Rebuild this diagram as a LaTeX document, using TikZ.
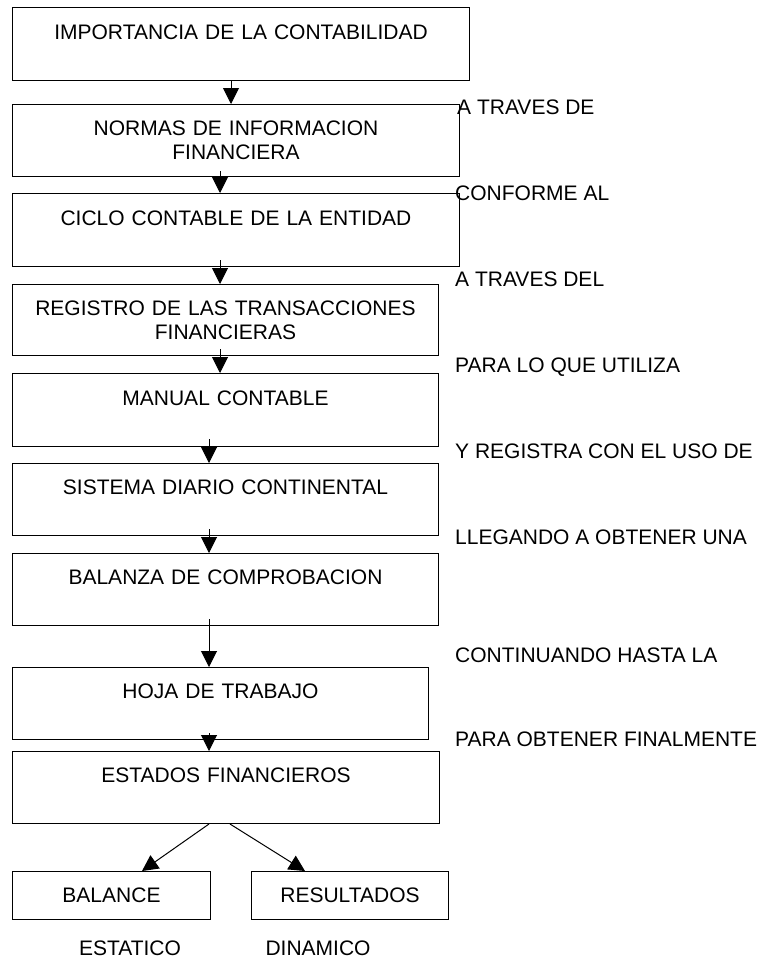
\documentclass[tikz,border=0pt]{standalone}
\usepackage{fontspec}
\setmainfont{Liberation Sans}
\usetikzlibrary{arrows.meta}

\tikzset{
	caja/.style={draw, line width=1pt, anchor=north west, inner sep=0pt, align=center, font=\fontsize{21}{24}\selectfont},
	nota/.style={anchor=base west, inner sep=0pt, font=\fontsize{21}{24}\selectfont},
	flecha/.style={-{Triangle[width=16pt,length=16pt]}, line width=1pt}
}

\begin{document}
\begin{tikzpicture}[x=1pt,y=-1pt]
	\useasboundingbox (0,0) rectangle (761,958);
	\node[caja, text width=457pt, minimum height=73pt] (imp) at (12,7) {IMPORTANCIA DE LA CONTABILIDAD\\~};
	\node[caja, text width=447pt, minimum height=72pt] (nor) at (12,104) {NORMAS DE INFORMACION\\FINANCIERA};
	\node[caja, text width=447pt, minimum height=73pt] (cic) at (12,193) {CICLO CONTABLE DE LA ENTIDAD\\~};
	\node[caja, text width=426pt, minimum height=71pt] (reg) at (12,284) {REGISTRO DE LAS TRANSACCIONES\\FINANCIERAS};
	\node[caja, text width=426pt, minimum height=73pt] (man) at (12,373) {MANUAL CONTABLE\\~};
	\node[caja, text width=426pt, minimum height=72pt] (sis) at (12,463) {SISTEMA DIARIO CONTINENTAL\\~};
	\node[caja, text width=426pt, minimum height=72pt] (bza) at (12,553) {BALANZA DE COMPROBACION\\~};
	\node[caja, text width=416pt, minimum height=72pt] (hoj) at (12,667) {HOJA DE TRABAJO\\~};
	\node[caja, text width=427pt, minimum height=72pt] (est) at (12,751) {ESTADOS FINANCIEROS\\~};
	\node[caja, text width=198pt, minimum height=48pt] (bal) at (12,871) {BALANCE};
	\node[caja, text width=197pt, minimum height=48pt] (res) at (251,871) {RESULTADOS};

	\draw[flecha] ([xshift=219pt,yshift=1pt]imp.south west) -- ([xshift=219pt]nor.north west);
	\draw[flecha] ([xshift=208pt,yshift=6pt]nor.south west) -- ([xshift=208pt]cic.north west);
	\draw[flecha] ([xshift=208pt,yshift=7pt]cic.south west) -- ([xshift=208pt]reg.north west);
	\draw[flecha] ([xshift=208pt,yshift=7pt]reg.south west) -- ([xshift=208pt]man.north west);
	\draw[flecha] ([xshift=197pt,yshift=8pt]man.south west) -- ([xshift=197pt]sis.north west);
	\draw[flecha] ([xshift=197pt,yshift=7pt]sis.south west) -- ([xshift=197pt]bza.north west);
	\draw[flecha] ([xshift=197pt,yshift=7pt]bza.south west) -- ([xshift=197pt]hoj.north west);
	\draw[flecha] ([xshift=197pt,yshift=7pt]hoj.south west) -- ([xshift=197pt]est.north west);
	\draw[flecha] ([xshift=197pt]est.south west) -- ([xshift=130pt]bal.north west);
	\draw[flecha] ([xshift=218pt]est.south west) -- ([xshift=54pt]res.north west);

	\node[nota] (n1) at (457,114) {A TRAVES DE};
	\node[nota] (n2) at (455,200) {CONFORME AL};
	\node[nota] (n3) at (455,286) {A TRAVES DEL};
	\node[nota] (n4) at (455,372) {PARA LO QUE UTILIZA};
	\node[nota] (n5) at (455,458) {Y REGISTRA CON EL USO DE};
	\node[nota] (n6) at (455,544) {LLEGANDO A OBTENER UNA};
	\node[nota] (n7) at (455,662) {CONTINUANDO HASTA LA};
	\node[nota] (n8) at (455,746) {PARA OBTENER FINALMENTE};
	\node[nota, anchor=base] (sta) at (130,955) {ESTATICO};
	\node[nota, anchor=base] (din) at (318,955) {DINAMICO};
\end{tikzpicture}
\end{document}
